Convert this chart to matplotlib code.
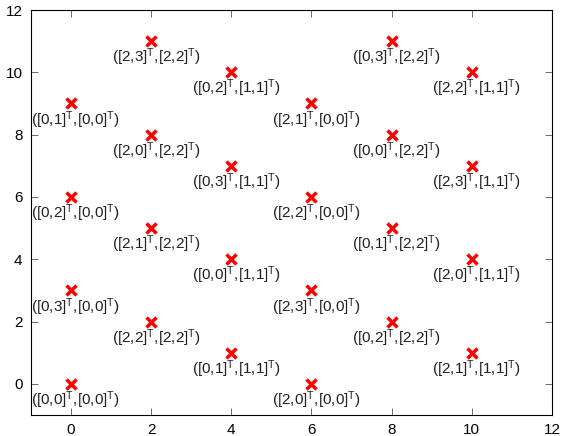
import matplotlib
matplotlib.use('Agg')
import matplotlib.pyplot as plt

# point positions
xs = [0, 0, 0, 0, 2, 2, 2, 2, 4, 4, 4, 4, 6, 6, 6, 6, 8, 8, 8, 8, 10, 10, 10, 10]
ys = [0, 3, 6, 9, 2, 5, 8, 11, 1, 4, 7, 10, 0, 3, 6, 9, 2, 5, 8, 11, 1, 4, 7, 10]
# first and second vector of each label
vec1 = ['0,0', '0,3', '0,2', '0,1',
        '2,2', '2,1', '2,0', '2,3',
        '0,1', '0,0', '0,3', '0,2',
        '2,0', '2,3', '2,2', '2,1',
        '0,2', '0,1', '0,0', '0,3',
        '2,1', '2,0', '2,3', '2,2']
vec2 = ['0,0'] * 4 + ['2,2'] * 4 + ['1,1'] * 4 + ['0,0'] * 4 + ['2,2'] * 4 + ['1,1'] * 4

plt.rcParams['font.family'] = 'Liberation Sans'
plt.rcParams['mathtext.fontset'] = 'custom'
plt.rcParams['mathtext.rm'] = 'Liberation Sans'
plt.rcParams['mathtext.it'] = 'Liberation Sans'

fig = plt.figure(figsize=(5.61, 4.36), dpi=100)
ax = fig.add_axes([0.055, 0.048, 0.929, 0.929])

ax.plot(xs, ys, 'x', color='red', markersize=7, markeredgewidth=2.5, linestyle='none')

for x, y, a, b in zip(xs, ys, vec1, vec2):
    s = '([%s]$^{\\mathrm{T}}$,[%s]$^{\\mathrm{T}}$)' % (a, b)
    ax.annotate(s, (x, y), xytext=(3.5, -4), textcoords='offset points',
                ha='center', va='top', fontsize=11, color='#202020')

ax.set_xlim(-1, 12)
ax.set_ylim(-1, 12)
ax.set_xticks(range(0, 13, 2))
ax.set_yticks(range(0, 13, 2))
ax.tick_params(direction='in', length=5, width=0.6, color='#555555', labelsize=11,
               top=True, right=True, labeltop=False, labelright=False, pad=6)

fig.savefig('out.png', dpi=100)
